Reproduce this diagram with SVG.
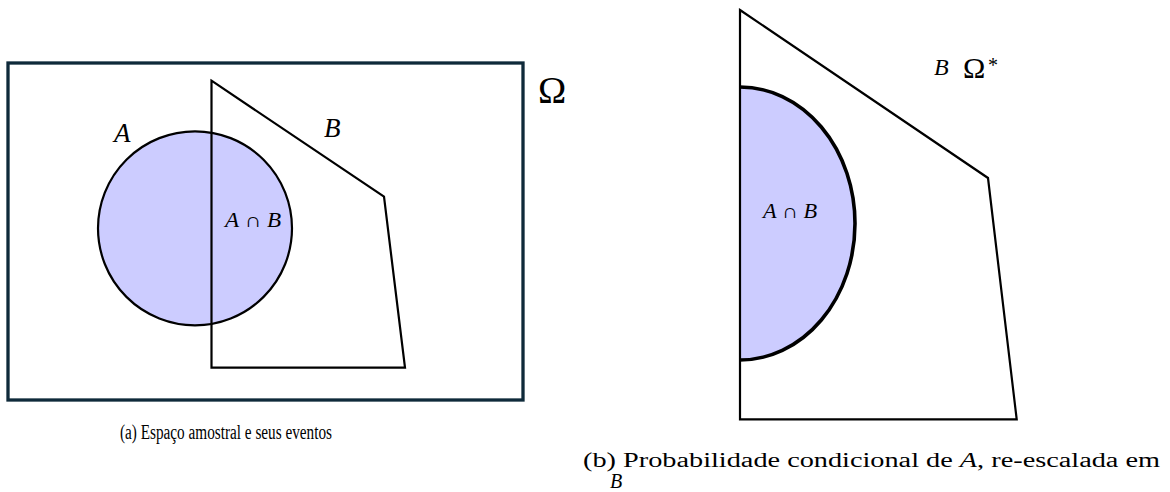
<svg xmlns="http://www.w3.org/2000/svg" width="1170" height="492" viewBox="0 0 1170 492">
<style>
.lbl{font-family:"Liberation Serif","DejaVu Serif",serif;font-style:italic;fill:#000}
.up{font-family:"Liberation Serif","DejaVu Serif",serif;fill:#000}
.cap{font-family:"Liberation Serif","DejaVu Serif",serif;font-size:20px;fill:#000}
.shape{fill:none;stroke:#000;stroke-width:2.2;stroke-linejoin:miter}
.evA{fill:#ccccff}
</style>
<rect width="1170" height="492" fill="#fff"/>
<g id="panel-a">
  <g id="omega">
    <rect x="8" y="63" width="515" height="337" fill="none" stroke="#0f2a3a" stroke-width="3.3"/>
    <text class="up" x="538" y="102.5" font-size="38">Ω</text>
  </g>
  <g id="event-A">
    <circle class="evA" cx="195" cy="228.3" r="97" stroke="#000" stroke-width="2.2"/>
    <text class="lbl" x="114" y="142" font-size="27">A</text>
  </g>
  <g id="event-B">
    <polygon class="shape" points="211.5,80.7 384,196.7 405,367.7 211.5,367.7"/>
    <text class="lbl" x="324" y="137" font-size="27">B</text>
  </g>
  <g id="intersection-a">
    <text class="lbl" x="225" y="227" font-size="20" textLength="56" lengthAdjust="spacingAndGlyphs">A ∩ B</text>
  </g>
  <text class="cap" x="120" y="439" font-size="22" textLength="212" lengthAdjust="spacingAndGlyphs">(a) Espaço amostral e seus eventos</text>
</g>
<g id="panel-b">
  <g id="intersection-b">
    <path class="evA" d="M740,87 A115,136.5 0 0 1 740,360 Z"/>
  </g>
  <g id="omega-star">
    <polygon class="shape" points="740,10 988,178 1016.7,419.3 740,419.3"/>
    <path d="M740,87 A115,136.5 0 0 1 740,360" fill="none" stroke="#000" stroke-width="3.6"/>
    <text class="lbl" x="934" y="75" font-size="24">B</text>
    <text class="up" x="963" y="78" font-size="30">Ω</text>
    <text class="up" x="988" y="72" font-size="20">*</text>
  </g>
  <text class="lbl" x="763" y="217.7" font-size="20" textLength="54" lengthAdjust="spacingAndGlyphs">A ∩ B</text>
  <text class="cap" x="583" y="467" font-size="20" textLength="577" lengthAdjust="spacingAndGlyphs">(b) Probabilidade condicional de <tspan font-style="italic">A</tspan>, re-escalada em</text>
  <text class="cap" x="610" y="488" font-size="19" font-style="italic">B</text>
</g>
</svg>
